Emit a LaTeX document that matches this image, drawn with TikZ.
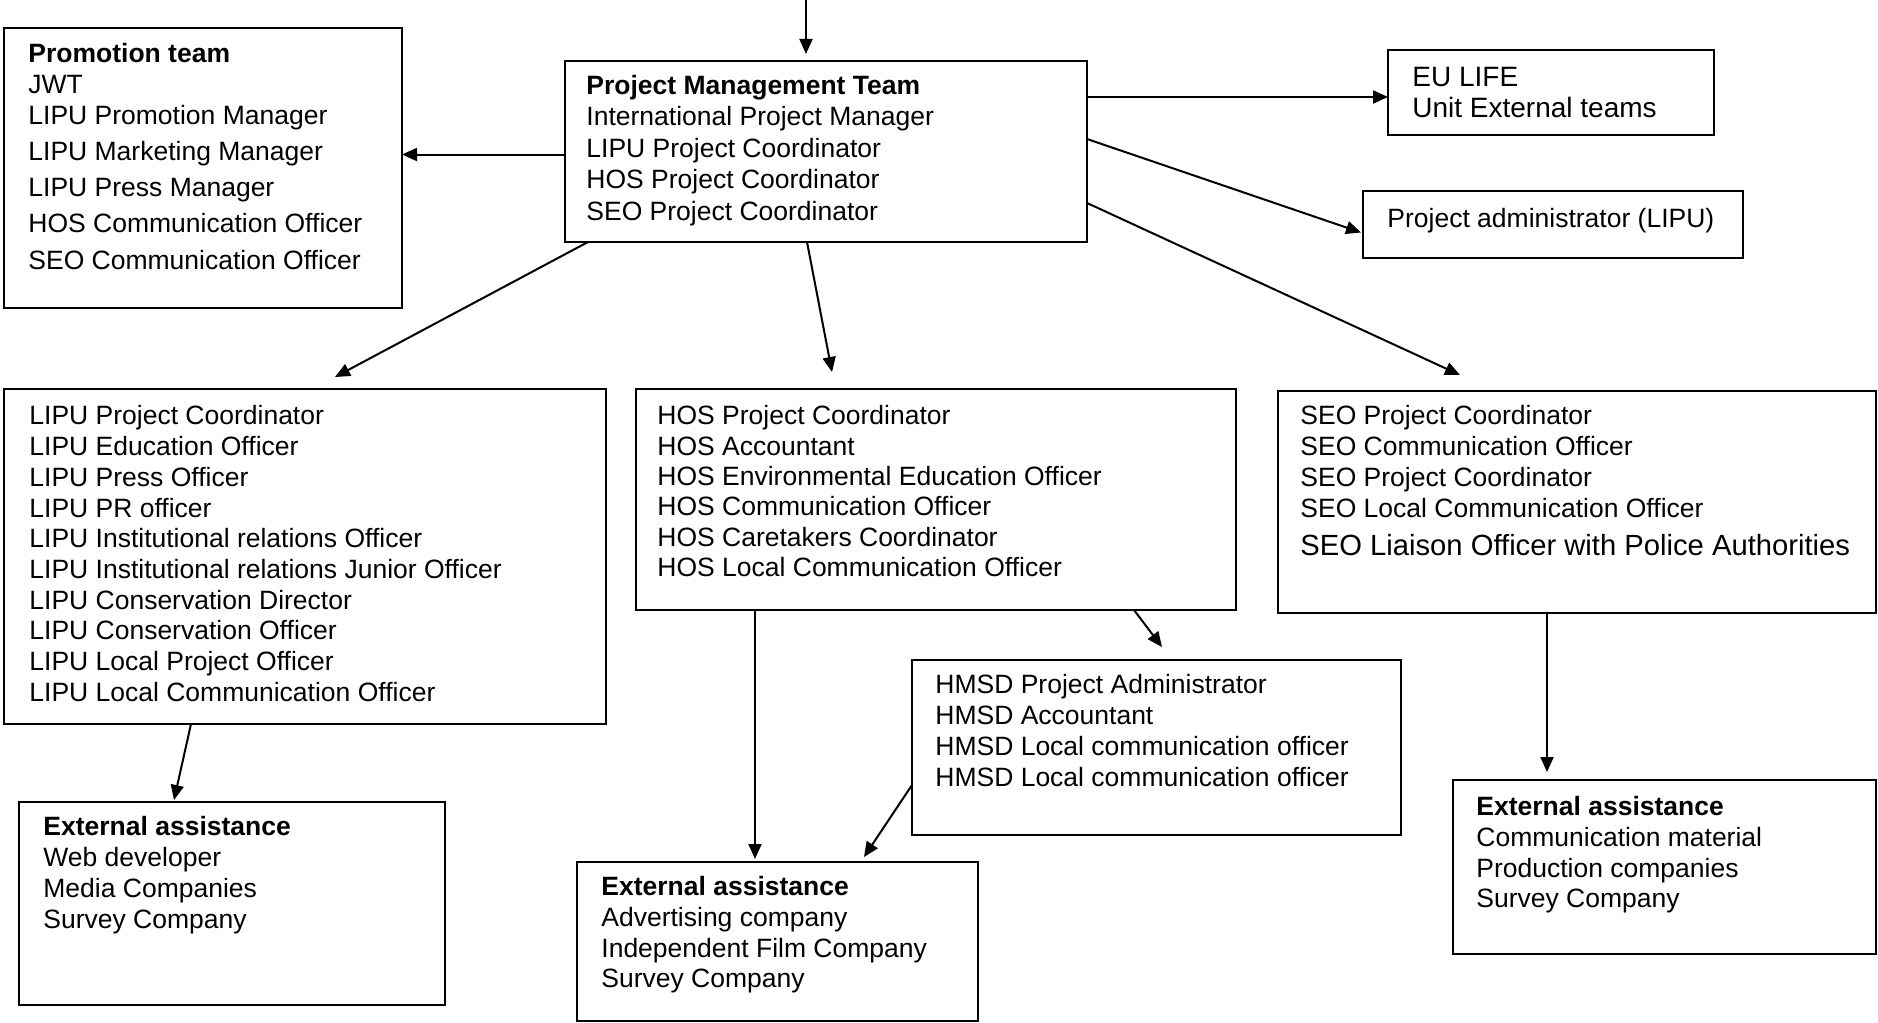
\documentclass[tikz,border=0pt]{standalone}
\usepackage{fontspec}
\setmainfont{Liberation Sans}
\usetikzlibrary{arrows.meta,calc,fit}
\newcommand\firststrut{\vrule height 11pt depth 0pt width 0pt}
\newcommand\fsz[1]{\fontsize{13.25pt}{#1}\selectfont}
\begin{document}
\begin{tikzpicture}[x=0.5pt,y=-0.5pt,
  box/.style={draw, line width=1.1pt, inner sep=0pt, outer sep=0pt},
  txt/.style={anchor=north west, inner sep=0pt, align=left, font=\fsz{15.35pt}},
  arr/.style={line width=1pt, -{Triangle[length=7.5pt,width=6.5pt]}}]
\useasboundingbox (0,0) rectangle (1878,1022);

% boxes
\node[box, fit={(4,28)(402,308)}] (prom) {};
\node[box, fit={(565,61)(1087,242)}] (pmt) {};
\node[box, fit={(1388,50)(1714,135)}] (eu) {};
\node[box, fit={(1363,191)(1743,258)}] (adm) {};
\node[box, fit={(4,389)(606,724)}] (lipu) {};
\node[box, fit={(636,389)(1236,610)}] (hos) {};
\node[box, fit={(1278,391)(1876,613)}] (seo) {};
\node[box, fit={(912,660)(1401,835)}] (hmsd) {};
\node[box, fit={(19,802)(445,1005)}] (ext1) {};
\node[box, fit={(577,862)(978,1021)}] (ext2) {};
\node[box, fit={(1453,780)(1876,954)}] (ext3) {};

% texts
\node[txt, font=\fsz{15.5pt}] (promt) at (28,40) {\firststrut\textbf{Promotion team}\\ JWT\\ LIPU Promotion Manager\\[2.5pt] LIPU Marketing Manager\\[2.5pt] LIPU Press Manager\\[2.5pt] HOS Communication Officer\\[3pt] SEO Communication Officer};
\node[txt, font=\fsz{15.75pt}] (pmtt) at (586,72) {\firststrut\textbf{Project Management Team}\\ International Project Manager\\ LIPU Project Coordinator\\ HOS Project Coordinator\\ SEO Project Coordinator};
\node[txt, font=\fontsize{14pt}{15.35pt}\selectfont] (eut) at (1412,64) {\firststrut EU LIFE\\ Unit External teams};
\node[txt] (admt) at (1387,205) {\firststrut Project administrator (LIPU)};
\node[txt] (liput) at (29,402.5) {\firststrut LIPU Project Coordinator\\ LIPU Education Officer\\ LIPU Press Officer\\ LIPU PR officer\\ LIPU Institutional relations Officer\\ LIPU Institutional relations Junior Officer\\ LIPU Conservation Director\\ LIPU Conservation Officer\\ LIPU Local Project Officer\\ LIPU Local Communication Officer};
\node[txt, font=\fsz{15.15pt}] (host) at (657,402.5) {\firststrut HOS Project Coordinator\\ HOS Accountant\\ HOS Environmental Education Officer\\ HOS Communication Officer\\ HOS Caretakers Coordinator\\ HOS Local Communication Officer};
\node[txt, font=\fsz{15.5pt}] (seot) at (1300,402.5) {\firststrut SEO Project Coordinator\\ SEO Communication Officer\\ SEO Project Coordinator\\ SEO Local Communication Officer\\[3.4pt] {\fontsize{14.6pt}{15.5pt}\selectfont SEO Liaison Officer with Police Authorities}};
\node[txt, font=\fsz{15.5pt}] (hmsdt) at (935,671) {\firststrut HMSD Project Administrator\\ HMSD Accountant\\ HMSD Local communication officer\\ HMSD Local communication officer};
\node[txt, font=\fsz{15.5pt}] (ext1t) at (43,813) {\firststrut\textbf{External assistance}\\ Web developer\\ Media Companies\\ Survey Company};
\node[txt, font=\fsz{15.4pt}] (ext2t) at (601,873) {\firststrut\textbf{External assistance}\\ Advertising company\\ Independent Film Company\\ Survey Company};
\node[txt, font=\fsz{15.4pt}] (ext3t) at (1476,793) {\firststrut\textbf{External assistance}\\ Communication material\\ Production companies\\ Survey Company};

% connectors
\coordinate (top) at (806,0);
\draw[arr] (top) -- ($(pmt.north west)+(241,-7)$);
\draw[arr] ($(pmt.west)+(0,3)$) coordinate (a2) -- (a2 -| prom.east);
\draw[arr] ($(pmt.north east)+(0,36)$) coordinate (a3) -- (a3 -| eu.west);
\draw[arr] ($(pmt.north east)+(0,78)$) -- ($(adm.west)+(-2,8)$);
\draw[arr] ($(pmt.north east)+(0,142)$) -- ($(seo.north west)+(182,-16)$);
\draw[arr] ($(pmt.south west)+(23,0)$) -- ($(lipu.north west)+(331,-12)$);
\draw[arr] ($(pmt.south west)+(242,0)$) -- ($(hos.north west)+(196,-17)$);
\draw[arr] ($(hos.south west)+(498,0)$) -- ($(hmsd.north west)+(250,-13)$);
\draw[arr] ($(hos.south west)+(119,0)$) coordinate (a9) -- ($(a9 |- ext2.north)+(0,-3)$);
\draw[arr] ($(hmsd.north west)+(0,125)$) -- ($(ext2.north west)+(287,-5)$);
\draw[arr] ($(lipu.south west)+(187,0)$) -- ($(ext1.north west)+(155,-2)$);
\draw[arr] ($(seo.south west)+(269,0)$) coordinate (a12) -- ($(a12 |- ext3.north)+(0,-8)$);
\end{tikzpicture}
\end{document}
